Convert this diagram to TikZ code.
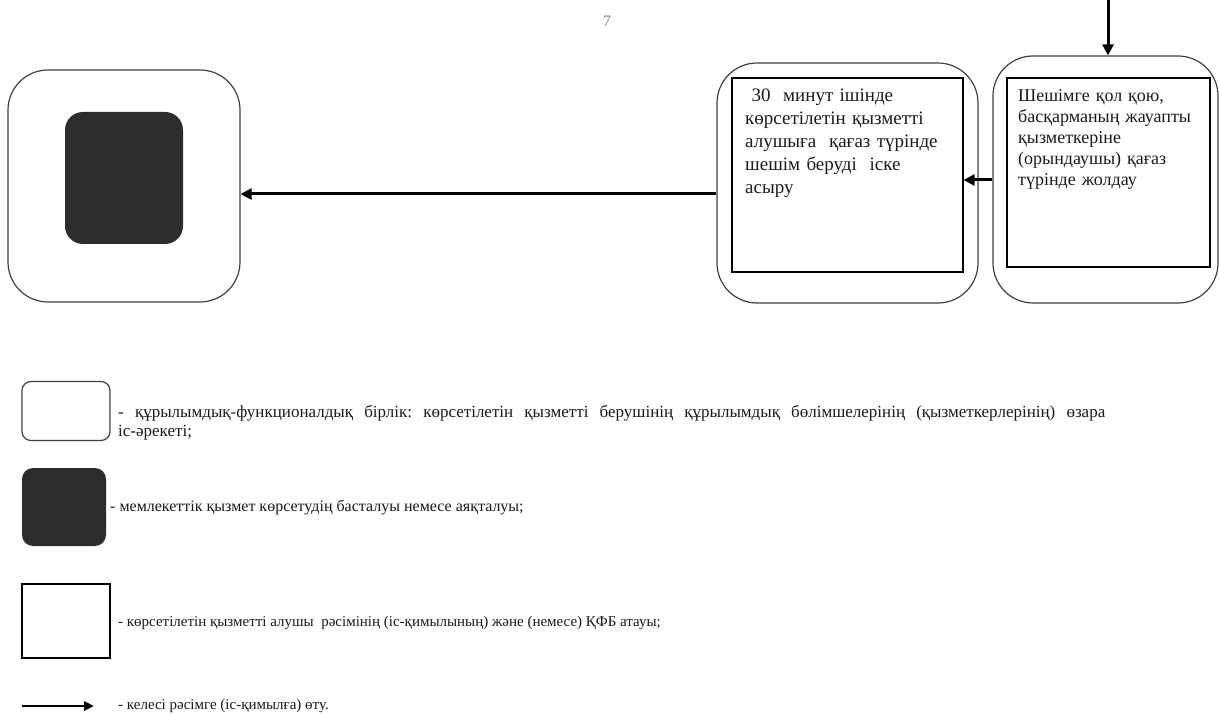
\documentclass[tikz,border=0pt]{standalone}
\usepackage{fontspec}
\setmainfont{Liberation Serif}
\frenchspacing
\usetikzlibrary{arrows.meta}
\definecolor{darkfill}{HTML}{2D2D2D}
\definecolor{pagegray}{HTML}{8A8A8A}
\definecolor{txt}{HTML}{1A1A1A}
\tikzset{
  unitbox/.style={draw=black!75, line width=1.2pt, rounded corners=40pt, inner sep=0pt},
  stepbox/.style={draw=black, line width=1.2pt, inner sep=0pt},
  startbox/.style={fill=darkfill, draw=none, inner sep=0pt},
  flow/.style={line width=3pt, -{Triangle[length=11pt,width=11pt]}},
  boxtext/.style={text=txt, align=left, inner sep=0pt, anchor=base west},
  legtext/.style={font=\fontsize{15}{19}\selectfont, text=txt, inner sep=0pt, anchor=west}
}
\begin{document}
\begin{tikzpicture}[x=1pt,y=-1pt]
\useasboundingbox (0,0) rectangle (1219,714);
\fill[white] (0,0) rectangle (1219,714);
% page number
\node[font=\fontsize{16}{19}\selectfont, text=pagegray, inner sep=0pt] (pg) at (607,21) {7};
% box 1 (end)
\node[unitbox, minimum width=232pt, minimum height=232pt] (b1o) at (124,186) {};
\node[startbox, rounded corners=18pt, minimum width=118pt, minimum height=132pt] (b1i) at (124,178) {};
% box 2
\node[unitbox, minimum width=261pt, minimum height=240pt] (b2o) at (847.5,183) {};
\node[stepbox, minimum width=231pt, minimum height=194pt] (b2i) at (847.5,175) {};
\node[boxtext, font=\fontsize{19}{23}\selectfont, text width=215pt] (t2) at (745,102) {\ 30\ \ минут ішінде\\көрсетілетін қызметті\\алушыға\ \ қағаз түрінде\\шешім беруді\ \ іске\\асыру};
% box 3
\node[unitbox, minimum width=225pt, minimum height=247pt] (b3o) at (1105.5,179.5) {};
\node[stepbox, minimum width=203pt, minimum height=189pt] (b3i) at (1108.5,172.5) {};
\node[boxtext, font=\fontsize{18}{21}\selectfont, text width=190pt] (t3) at (1018,102) {Шешімге қол қою,\\басқарманың жауапты\\қызметкеріне\\(орындаушы) қағаз\\түрінде жолдау};
% arrows
\coordinate (top) at (1108,0);
\draw[flow] (top) -- (top |- b3o.north);
\draw[flow] (b3o.west |- 0,180) -- (b2i.east |- 0,180);
\draw[flow] (b2o.west |- 0,194) -- (b1o.east |- 0,194);
% legend
\node[unitbox, rounded corners=9pt, minimum width=88pt, minimum height=59pt] (l1) at (66,411) {};
\node[legtext, font=\fontsize{17}{19.5}\selectfont, anchor=base west, text width=987pt, align=justify] (lt1) at (118,417) {- құрылымдық-функционалдық бірлік: көрсетілетін қызметті берушінің құрылымдық бөлімшелерінің (қызметкерлерінің) өзара\linebreak іс-әрекеті;};
\node[startbox, rounded corners=11pt, minimum width=84pt, minimum height=78pt] (l2) at (64,507) {};
\node[legtext, font=\fontsize{16}{19}\selectfont] (lt2) at (110,507) {- мемлекеттік қызмет көрсетудің басталуы немесе аяқталуы;};
\node[stepbox, minimum width=88pt, minimum height=74pt] (l3) at (66,621) {};
\node[legtext] (lt3) at (118,623) {- көрсетілетін қызметті алушы\ \ рәсімінің (іс-қимылының) және (немесе) ҚФБ атауы;};
\coordinate (la) at (22,706);
\coordinate (lb) at (94,706);
\draw[flow, line width=2.6pt, -{Triangle[length=10pt,width=9pt]}] (la) -- (lb);
\node[legtext] (lt4) at (118,706) {- келесі рәсімге (іс-қимылға) өту.};
\end{tikzpicture}
\end{document}
